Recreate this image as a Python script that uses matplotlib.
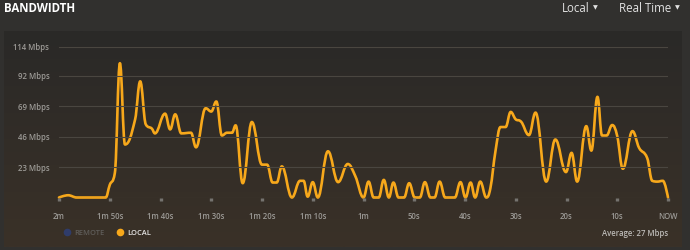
import matplotlib
matplotlib.use("Agg")
import matplotlib.pyplot as plt
import numpy as np
from matplotlib.path import Path
from matplotlib.patches import PathPatch
from matplotlib.lines import Line2D

# seconds since the start of the 2 minute window, and LOCAL bandwidth (Mbps)
seconds = [0, 1.8, 3.5, 9.2, 10.0, 11.0, 12.0, 13.0, 15.0, 16.0, 17.1, 18.3, 18.9,
           20.9, 21.9, 22.9, 24.1, 26.0, 27.0, 28.9, 30.0, 31.0, 32.1, 33.1, 34.1,
           34.8, 36.2, 38.0, 40.0, 41.0, 42.1, 42.9, 43.9, 45.9, 47.5, 48.2, 49.0,
           50.0, 51.0, 53.0, 55.0, 56.9, 58.4, 60.0, 61.0, 62.0, 63.0, 64.0, 65.0,
           65.9, 66.9, 68.0, 69.0, 70.1, 71.1, 72.1, 73.2, 74.0, 75.0, 76.1, 78.0,
           79.1, 80.1, 81.1, 82.0, 83.0, 84.2, 85.0, 86.0, 87.0, 88.0, 89.0, 90.0,
           90.9, 92.6, 93.9, 96.0, 97.8, 99.9, 101.0, 102.1, 103.9, 104.9, 106.1,
           107.0, 107.9, 109.0, 110.0, 111.1, 113.0, 114.3, 115.9, 116.9, 117.9,
           119.0, 120.0]
local = [0, 1.7, 0, 0, 9.5, 18.4, 101.4, 40, 59, 87.7, 55.2, 52, 48.4,
         63.3, 51.4, 62.8, 48.4, 48.9, 37.9, 67.4, 64.9, 72.5, 46.8, 48.9, 48.9,
         54.5, 10.8, 57, 24.8, 24.8, 11.3, 11.3, 23.5, 0, 12.6, 12.6, 0.6,
         11.6, 0, 34.9, 11.6, 25.3, 16, 0, 12, 0, 0, 13.3, 0,
         11.3, 0, 0, 10.8, 0, 0, 11.6, 0, 0, 12, 0, 0,
         11.6, 0, 11.3, 0, 12, 0, 7, 34.9, 53.2, 53.2, 64.6, 59,
         57.7, 47.1, 64.1, 12, 43.8, 19.2, 33.7, 12, 53.9, 35.4, 76,
         46.8, 46.8, 54.7, 46.3, 21.7, 50.1, 37.5, 29.8, 12.6, 12,
         12.6, 0]
tick_pos = list(range(0, 121, 10))
tick_labels = ["2m", "1m 50s", "1m 40s", "1m 30s", "1m 20s", "1m 10s", "1m",
               "50s", "40s", "30s", "20s", "10s", "NOW"]
y_ticks = [0, 23, 46, 69, 92, 114]
y_labels = ["", "23 Mbps", "46 Mbps", "69 Mbps", "92 Mbps", "114 Mbps"]
average = 27

ORANGE = "#f7a81b"


def spline_path(xs, ys, smoothing=1.5):
    # bezier control points like a highcharts spline series
    n = len(xs)
    lc, rc = [], []
    for i in range(n):
        if i == 0 or i == n - 1:
            lc.append((xs[i], ys[i]))
            rc.append((xs[i], ys[i]))
            continue
        d = smoothing + 1
        lx = (smoothing * xs[i] + xs[i - 1]) / d
        ly = (smoothing * ys[i] + ys[i - 1]) / d
        rx = (smoothing * xs[i] + xs[i + 1]) / d
        ry = (smoothing * ys[i] + ys[i + 1]) / d
        if rx != lx:
            corr = (ry - ly) * (rx - xs[i]) / (rx - lx) + ys[i] - ry
            ly += corr
            ry += corr
        if ly > ys[i - 1] and ly > ys[i]:
            ly = max(ys[i - 1], ys[i]); ry = 2 * ys[i] - ly
        elif ly < ys[i - 1] and ly < ys[i]:
            ly = min(ys[i - 1], ys[i]); ry = 2 * ys[i] - ly
        if ry > ys[i + 1] and ry > ys[i]:
            ry = max(ys[i + 1], ys[i]); ly = 2 * ys[i] - ry
        elif ry < ys[i + 1] and ry < ys[i]:
            ry = min(ys[i + 1], ys[i]); ly = 2 * ys[i] - ry
        lc.append((lx, ly))
        rc.append((rx, ry))
    verts = [(xs[0], ys[0])]
    codes = [Path.MOVETO]
    for i in range(1, n):
        verts += [rc[i - 1], lc[i], (xs[i], ys[i])]
        codes += [Path.CURVE4] * 3
    return Path(verts, codes)


plt.rcParams["font.family"] = ["Open Sans", "DejaVu Sans"]
fig = plt.figure(figsize=(6.9, 2.5), dpi=100)
fig.patch.set_facecolor("#31302e")

# inner panel with a slight warm gradient
bg = fig.add_axes([4 / 690, 3 / 250, 678 / 690, 216 / 250], zorder=0)
grad = np.linspace(0, 1, 100).reshape(-1, 1)
cmap = matplotlib.colors.LinearSegmentedColormap.from_list("bg", ["#3a3128", "#2a2927"])
bg.imshow(grad, aspect="auto", cmap=cmap, origin="lower", extent=[0, 1, 0, 1])
bg.axis("off")

ax = fig.add_axes([59 / 690, 52.5 / 250, 609 / 690, 151 / 250], zorder=1)
ax.patch.set_alpha(0)
ax.set_xlim(0, 120)
ax.set_ylim(0, 114)
ax.set_yticks(y_ticks)
ax.set_yticklabels(y_labels)
ax.set_xticks(tick_pos)
ax.set_xticklabels(tick_labels)
ax.grid(axis="y", color="#4a4640", lw=0.8)
for s in ax.spines.values():
    s.set_visible(False)
ax.tick_params(axis="y", length=0, pad=7, labelsize=5.6, labelcolor="#9c9a96")
ax.tick_params(axis="x", length=2.4, width=2.4, color="#75736f", direction="out",
               pad=8, labelsize=5.6, labelcolor="#9c9a96")
for lab in ax.get_xticklabels() + ax.get_yticklabels():
    lab.set_fontweight("semibold")

ax.add_patch(PathPatch(spline_path(seconds, local), fill=False, ec=ORANGE, lw=1.9,
                       joinstyle="round", capstyle="round", clip_on=False))

fig.text(4 / 690, 1 - 8.5 / 250, "BANDWIDTH", color="white", fontsize=8.3,
         fontweight="bold", va="center", ha="left")
fig.text(562 / 690, 1 - 8.5 / 250, "Local", color="#e2e2e2", fontsize=8.3, va="center")
fig.text(593 / 690, 1 - 8 / 250, "▼", color="#e2e2e2", fontsize=4.5, va="center",
         family="DejaVu Sans")
fig.text(619 / 690, 1 - 8.5 / 250, "Real Time", color="#e2e2e2", fontsize=8.3, va="center")
fig.text(675 / 690, 1 - 8 / 250, "▼", color="#e2e2e2", fontsize=4.5, va="center",
         family="DejaVu Sans")

handles = [Line2D([], [], ls="", marker="o", ms=5.5, mfc="#2f3c6a", mec="none"),
           Line2D([], [], ls="", marker="o", ms=5.5, mfc=ORANGE, mec="none")]
leg = fig.legend(handles, ["REMOTE", "LOCAL"], loc="center left",
                 bbox_to_anchor=(56 / 690, 1 - 233 / 250), frameon=False, ncol=2,
                 prop={"size": 5.4, "weight": "semibold"}, handletextpad=0.5,
                 columnspacing=1.6, handlelength=1.0)
leg.get_texts()[0].set_color("#5f5d5a")
leg.get_texts()[1].set_color("#e6e6e6")

fig.text(668 / 690, 1 - 233 / 250, f"Average: {average} Mbps", color="#bdbbb8",
         fontsize=5.6, fontweight="semibold", ha="right", va="center")

fig.savefig("out.png", dpi=100, facecolor=fig.get_facecolor())
